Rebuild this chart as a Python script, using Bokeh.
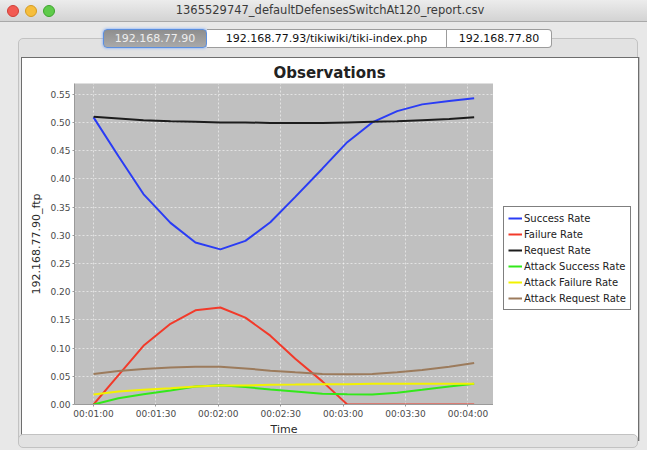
from bokeh.plotting import figure
from bokeh.models import (FixedTicker, NumeralTickFormatter, Legend, LegendItem,
                          Range1d, Div)
from bokeh.layouts import column, row
from bokeh.embed import file_html
from bokeh.resources import INLINE

# ---------------- data ----------------
window_title = "1365529747_defaultDefensesSwitchAt120_report.csv"
tab_labels = ["192.168.77.90", "192.168.77.93/tikiwiki/tiki-index.php", "192.168.77.80"]
chart_title = "Observations"
x_label = "Time"
y_label = "192.168.77.90_ftp"

time_s = [60, 72, 84, 97, 109, 121, 133, 145, 157, 170, 182, 194, 206, 218, 231, 243]
success_rate = [0.509, 0.440, 0.373, 0.322, 0.287, 0.275, 0.290, 0.323,
                0.368, 0.418, 0.465, 0.500, 0.520, 0.532, 0.538, 0.543]
failure_rate = [0.000, 0.052, 0.104, 0.143, 0.167, 0.172, 0.154, 0.122,
                0.081, 0.041, 0.000, 0.000, 0.000, 0.000, 0.000, 0.000]
request_rate = [0.510, 0.507, 0.504, 0.502, 0.501, 0.500, 0.500, 0.499,
                0.499, 0.499, 0.500, 0.501, 0.502, 0.504, 0.506, 0.509]
attack_success = [0.000, 0.011, 0.018, 0.025, 0.032, 0.034, 0.031, 0.0265,
                  0.023, 0.019, 0.018, 0.0177, 0.0207, 0.026, 0.032, 0.0366]
attack_failure = [0.0177, 0.023, 0.026, 0.029, 0.032, 0.0336, 0.0336, 0.035,
                  0.0354, 0.036, 0.036, 0.0366, 0.0366, 0.0366, 0.0366, 0.0366]
attack_request = [0.054, 0.0595, 0.063, 0.0654, 0.067, 0.067, 0.064, 0.060,
                  0.057, 0.054, 0.0536, 0.054, 0.057, 0.061, 0.067, 0.0737]

series_names = ["Success Rate", "Failure Rate", "Request Rate",
                "Attack Success Rate", "Attack Failure Rate", "Attack Request Rate"]
series_values = [success_rate, failure_rate, request_rate,
                 attack_success, attack_failure, attack_request]
series_colors = ["#2a3cf5", "#f23a2a", "#1c1c1c", "#33e81a", "#f2f200", "#9c7b5c"]

x_tick_values = [60, 90, 120, 150, 180, 210, 240]
x_tick_labels = ["00:01:00", "00:01:30", "00:02:00", "00:02:30",
                 "00:03:00", "00:03:30", "00:04:00"]
y_tick_values = [0.00, 0.05, 0.10, 0.15, 0.20, 0.25, 0.30, 0.35, 0.40, 0.45, 0.50, 0.55]

FONT = "DejaVu Sans"

# ---------------- main chart ----------------
p = figure(width=471, height=382, output_backend="svg", toolbar_location=None,
           x_range=Range1d(50.85, 252.3), y_range=Range1d(0, 0.569),
           min_border_left=52, min_border_right=0, min_border_top=25,
           min_border_bottom=36,
           background_fill_color="#c0c0c0", border_fill_color="white", margin=0)

p.outline_line_color = None
p.title.text = chart_title
p.title.text_font = FONT
p.title.text_font_size = "15px"
p.title.text_font_style = "bold"
p.title.text_color = "#222222"
p.title.align = "left"
p.title.offset = 199
p.title.standoff = 4

for name, vals, col in zip(series_names, series_values, series_colors):
    p.line(time_s, vals, line_color=col, line_width=2)

for ax in (p.xaxis[0], p.yaxis[0]):
    ax.major_label_text_font = FONT
    ax.major_label_text_font_size = "9px"
    ax.major_label_text_color = "#4a4a4a"
    ax.axis_label_text_font = FONT
    ax.axis_label_text_font_size = "11px"
    ax.axis_label_text_font_style = "normal"
    ax.axis_label_text_color = "#2a2a2a"
    ax.axis_line_color = "#9a9a9a"
    ax.major_tick_line_color = "#9a9a9a"
    ax.major_tick_in = 0
    ax.major_tick_out = 2
    ax.minor_tick_line_color = None
    ax.major_label_standoff = 2

p.xaxis.ticker = FixedTicker(ticks=x_tick_values)
p.xaxis.major_label_overrides = dict(zip(x_tick_values, x_tick_labels))
p.xaxis.axis_label = x_label
p.xaxis.axis_label_standoff = 1
p.yaxis.ticker = FixedTicker(ticks=y_tick_values)
p.yaxis.formatter = NumeralTickFormatter(format="0.00")
p.yaxis.axis_label = y_label
p.yaxis.axis_label_standoff = 4

for g in (p.xgrid[0], p.ygrid[0]):
    g.grid_line_color = "white"
    g.grid_line_alpha = 0.55
    g.grid_line_dash = "2 2"
    g.grid_line_width = 1

# ---------------- legend panel ----------------
# the series are drawn here outside the visible range; only their legend swatches show
pl = figure(width=145, height=382, output_backend="svg", toolbar_location=None,
            x_range=Range1d(0, 1), y_range=Range1d(0, 1),
            x_axis_type=None, y_axis_type=None, min_border=0,
            background_fill_color="white", border_fill_color="white", margin=0)
pl.outline_line_color = None
pl.grid.visible = False

legend_items = []
for name, vals, col in zip(series_names, series_values, series_colors):
    r = pl.line(time_s, vals, line_color=col, line_width=2)
    legend_items.append(LegendItem(label=name, renderers=[r]))

legend = Legend(items=legend_items,
                location=(10, 94), orientation="vertical",
                label_text_font=FONT, label_text_font_size="10px",
                label_text_color="#222222",
                glyph_width=14, glyph_height=14, label_height=14,
                label_standoff=2, spacing=2, padding=4, margin=0,
                border_line_color="black", border_line_width=1,
                background_fill_color="white", background_fill_alpha=1.0)
pl.add_layout(legend)

# ---------------- window chrome ----------------
lights = ""
for left, bg, bd in [(7, "#f25a52", "#cf3f37"), (25, "#f6be3c", "#d59c22"), (43, "#5fcb4a", "#3ea52e")]:
    lights += (f'<span style="position:absolute;left:{left}px;top:5px;width:12px;height:12px;'
               f'border-radius:50%;background:{bg};border:1px solid {bd};box-sizing:border-box;"></span>')

title_html = (f'<div style="position:relative;width:647px;height:22px;overflow:hidden;'
              f'background:linear-gradient(#ececec,#d3d3d3);border-bottom:1px solid #a9a9a9;'
              f'box-sizing:border-box;font-family:\'{FONT}\';font-size:11.5px;color:#3a3a3a;">'
              f'{lights}<span style="position:absolute;left:0;width:660px;top:3px;'
              f'text-align:center;line-height:15px;">{window_title}</span></div>')

tab_widths = [104, 240, 105]
tabs = ""
for i, (lab, w) in enumerate(zip(tab_labels, tab_widths)):
    if i == 0:
        st = ("background:linear-gradient(#8e8e8e,#a9a9a9);color:#eeeeee;"
              "border:1px solid #5b8fe0;box-shadow:0 0 3px #6da3ff;border-radius:4px;")
    else:
        rad = "border-radius:0 4px 4px 0;" if i == 2 else ""
        st = f"background:white;color:#111;border:1px solid #9c9c9c;border-left:none;{rad}"
    tabs += (f'<div style="width:{w}px;height:19px;box-sizing:border-box;text-align:center;'
             f'line-height:17px;{st}">{lab}</div>')

tabs_html = (f'<div style="position:relative;width:647px;height:35px;overflow:hidden;'
             f'background:#e8e8e8;font-family:\'{FONT}\';font-size:11px;">'
             f'<div style="position:absolute;left:18px;top:16px;width:620px;height:60px;'
             f'border:1px solid #c2c2c2;border-radius:5px;background:#e2e2e2;"></div>'
             f'<div style="position:absolute;left:103px;top:7px;display:flex;">{tabs}</div></div>')

left_html = ('<div style="position:relative;width:21px;height:384px;background:#e8e8e8;">'
             '<div style="position:absolute;left:18px;top:0;width:2px;height:384px;'
             'border-left:1px solid #c2c2c2;background:#e2e2e2;"></div></div>')
right_html = ('<div style="position:relative;width:8px;height:384px;background:#e8e8e8;">'
              '<div style="position:absolute;left:0;top:0;width:1px;height:384px;'
              'border-right:1px solid #c2c2c2;background:#e2e2e2;"></div></div>')
bottom_html = ('<div style="position:relative;width:647px;height:9px;background:#e8e8e8;">'
               '<div style="position:absolute;left:18px;top:-10px;width:620px;height:14px;'
               'border:1px solid #c2c2c2;border-radius:5px;background:#e2e2e2;"></div></div>')

title_div = Div(text=title_html, width=647, height=22, margin=0)
tabs_div = Div(text=tabs_html, width=647, height=35, margin=0)
left_div = Div(text=left_html, width=21, height=384, margin=0)
right_div = Div(text=right_html, width=8, height=384, margin=0)
bottom_div = Div(text=bottom_html, width=647, height=9, margin=0)

panel = row(p, pl, margin=0, spacing=0,
            styles={"border": "1px solid #6e6e6e", "background-color": "white"})

layout = column(title_div, tabs_div,
                row(left_div, panel, right_div, margin=0, spacing=0),
                bottom_div,
                margin=0, spacing=0, styles={"background-color": "#e8e8e8"})

open("out.html", "w").write(file_html(layout, INLINE))
